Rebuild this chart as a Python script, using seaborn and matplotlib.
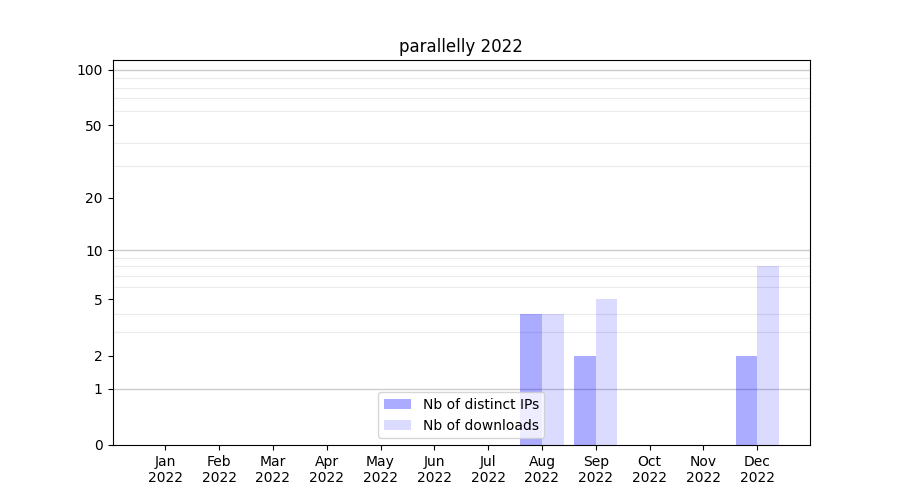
import numpy as np
import pandas as pd
import matplotlib
matplotlib.use("Agg")
import matplotlib.pyplot as plt
import seaborn as sns

months = ["Jan\n2022", "Feb\n2022", "Mar\n2022", "Apr\n2022", "May\n2022", "Jun\n2022",
          "Jul\n2022", "Aug\n2022", "Sep\n2022", "Oct\n2022", "Nov\n2022", "Dec\n2022"]
distinct_ips = [0, 0, 0, 0, 0, 0, 0, 4, 2, 0, 0, 2]
downloads = [0, 0, 0, 0, 0, 0, 0, 4, 5, 0, 0, 8]
series = ["Nb of distinct IPs", "Nb of downloads"]
alphas = [0.33, 0.14]

y_ticks = [0, 1, 2, 5, 10, 20, 50, 100]
decades = [1, 10, 100]
minor_lines = [2, 3, 4, 5, 6, 7, 8, 9, 20, 30, 40, 50, 60, 70, 80, 90]

df = pd.DataFrame({
    "month": months * 2,
    "value": distinct_ips + downloads,
    "series": [series[0]] * len(months) + [series[1]] * len(months),
})

fig, ax = plt.subplots(figsize=(9, 5), dpi=100)
sns.barplot(data=df, x="month", y="value", hue="series", order=months,
            hue_order=series, palette=["blue", "blue"], saturation=1,
            width=0.8, linewidth=0, legend=False, ax=ax)

for cont, a in zip(ax.containers, alphas):
    for bar in cont:
        bar.set_alpha(a)

# log(1+x) scale so zero still fits
ax.set_yscale("function", functions=(lambda y: np.log10(1 + np.clip(y, 0, None)),
                                     lambda y: 10 ** y - 1))
ax.set_ylim(0, 113)
ax.set_yticks(y_ticks)
ax.set_yticklabels([str(t) for t in y_ticks])
ax.set_yticks(minor_lines, minor=True)
ax.tick_params(axis="y", which="minor", length=0)
ax.grid(True, axis="y", which="minor", color="#ebebeb", lw=0.8)
ax.grid(False, axis="y", which="major")
for d in decades:
    ax.axhline(d, color="#cccccc", lw=1, zorder=0.5)
ax.set_axisbelow(True)

ax.set_xlim(-0.98, len(months) - 0.02)
ax.set_xlabel("")
ax.set_ylabel("")
ax.set_title("parallelly 2022")
ax.legend(ax.containers, series, loc="lower center")

fig.savefig("out.png")
